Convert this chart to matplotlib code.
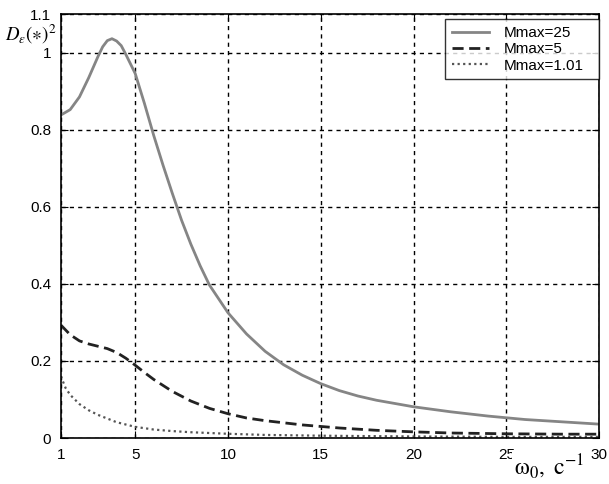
import matplotlib
matplotlib.use("Agg")
import matplotlib.pyplot as plt

plt.rcParams['font.family'] = ['Liberation Sans', 'DejaVu Sans']
plt.rcParams['mathtext.fontset'] = 'stix'

# Mmax=25
x25 = [1, 1.5, 2, 2.5, 3, 3.25, 3.5, 3.75, 4, 4.25, 4.5, 5, 5.5, 6, 6.5, 7, 7.5,
       8, 8.5, 9, 10, 11, 12, 13, 14, 15, 16, 17, 18, 20, 22, 24, 26, 28, 30]
y25 = [0.838, 0.852, 0.885, 0.935, 0.99, 1.015, 1.031, 1.036, 1.03, 1.018,
       0.995, 0.946, 0.868, 0.785, 0.708, 0.635, 0.565, 0.503, 0.447, 0.397,
       0.325, 0.27, 0.225, 0.19, 0.163, 0.141, 0.123, 0.109, 0.098, 0.081,
       0.068, 0.057, 0.048, 0.042, 0.036]

# Mmax=5
x5 = [1, 1.5, 2, 2.5, 3, 3.5, 4, 4.5, 5, 5.5, 6, 7, 8, 9, 10, 11, 12, 14, 16,
      18, 20, 22, 25, 28, 30]
y5 = [0.293, 0.268, 0.252, 0.244, 0.238, 0.232, 0.222, 0.207, 0.189, 0.170,
      0.152, 0.121, 0.096, 0.077, 0.063, 0.052, 0.045, 0.034, 0.026, 0.020,
      0.016, 0.013, 0.011, 0.010, 0.010]

# Mmax=1.01
x101 = [1, 1.25, 1.5, 2, 2.5, 3, 4, 5, 6, 7, 8, 10, 12, 15, 20, 25, 30]
y101 = [0.16, 0.13, 0.112, 0.088, 0.072, 0.060, 0.041, 0.029, 0.022, 0.018,
        0.015, 0.011, 0.008, 0.006, 0.004, 0.003, 0.003]

xticks = [1, 5, 10, 15, 20, 25, 30]
yticks = [0, 0.2, 0.4, 0.6, 0.8, 1, 1.1]
ytick_labels = ["0", "0.2", "0.4", "0.6", "0.8", "1", "1.1"]

fig = plt.figure(figsize=(6.09, 4.84), dpi=100)
ax = fig.add_axes([0.100, 0.095, 0.884, 0.876])

ax.plot(x25, y25, color='#858585', lw=2, label='Mmax=25')
ax.plot(x5, y5, color='#222222', lw=2, ls=(0, (4, 2)), label='Mmax=5')
ax.plot(x101, y101, color='#555555', lw=1.6, ls=(0, (1, 1.5)), label='Mmax=1.01')

ax.set_xlim(1, 30)
ax.set_ylim(0, 1.1)
ax.set_xticks(xticks)
ax.set_yticks(yticks)
ax.set_yticklabels(ytick_labels)
ax.tick_params(direction='in', length=5, top=True, right=True, labelsize=11,
               color='black', pad=7)
ax.grid(True, color='black', ls=(0, (3, 3)), lw=1)
for s in ax.spines.values():
    s.set_linewidth(1.2)

# legend box spans from about x=0.714 to the right spine
leg = ax.legend(loc='upper left', bbox_to_anchor=(0.714, 0.988, 0.286, 0.0),
                mode='expand', fontsize=11,
                frameon=True, fancybox=False, edgecolor='black',
                borderaxespad=0, labelspacing=0.15, handlelength=2.4,
                handletextpad=1.0, borderpad=0.45)
leg.get_frame().set_linewidth(1.0)

fig.text(0.092, 0.928, r'$D_{\varepsilon}(\ast)^2$', fontsize=13.5,
         ha='right', va='center')

fig.text(0.959, 0.019, r'$\mathrm{\omega_0,\ c^{-1}}$', fontsize=17,
         ha='right', va='baseline',
         bbox=dict(facecolor='white', edgecolor='none', pad=1))

fig.savefig("out.png", dpi=100)
